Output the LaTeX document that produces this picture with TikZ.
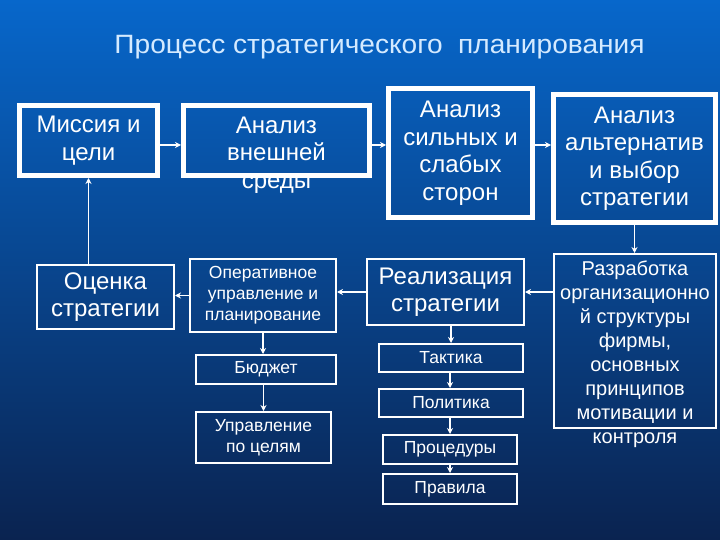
\documentclass[tikz,border=0pt]{standalone}
\usepackage{fontspec}
\setmainfont{Liberation Sans}
\newfontfamily\widefont[FakeStretch=1.06]{Liberation Sans}
\usetikzlibrary{arrows.meta, positioning, calc}
\definecolor{slidetop}{HTML}{0767CB}
\definecolor{slidemid}{HTML}{0852AA}
\definecolor{slidebot}{HTML}{0A2350}
\definecolor{titlelight}{HTML}{D4EAFF}

\begin{document}
\begin{tikzpicture}[x=1pt, y=-1pt,
  every node/.style={inner sep=0pt, align=center, text=white},
  thickbox/.style={draw=white, line width=5pt, outer sep=2.5pt},
  thinbox/.style={draw=white, line width=2pt, outer sep=1pt},
  big/.style={font=\fontsize{24}{27.5}\selectfont},
  mid/.style={font=\fontsize{20}{24}\selectfont},
  small/.style={font=\fontsize{17.5}{21}\selectfont},
  flow/.style={draw=white, line width=1.5pt, -{Stealth[length=6pt,width=6pt]}}]
  % background of the slide
  \shade[top color=slidetop, middle color=slidemid, bottom color=slidebot]
        (0,0) rectangle (720,540);
  \useasboundingbox (0,0) rectangle (720,540);
  \node[font=\widefont\fontsize{26.5}{30}\selectfont, text=titlelight] (title) at (379.5,47)
       {Процесс стратегического\ \ планирования};

  % top row: analysis steps
  \node[thickbox, big, minimum width=138, minimum height=70] (mission) at (88.5,140.5)
       {Миссия и\\цели};
  \node[thickbox, minimum width=186, minimum height=70] (extenv) at (276.5,140.5) {};
  \node[big] (extenvtxt) at (276.5,155) {Анализ\\внешней\\среды};
  \node[thickbox, big, minimum width=144, minimum height=129] (swot) at (460.5,153)
       {Анализ\\сильных и\\слабых\\сторон};
  \node[thickbox, big, minimum width=162, minimum height=128] (altern) at (634.5,158.5)
       {Анализ\\альтернатив\\и выбор\\стратегии};

  % second row
  \node[thinbox, big, minimum width=137, minimum height=64] (evaluate) at (105.5,297)
       {Оценка\\стратегии};
  \node[thinbox, small, minimum width=146, minimum height=73] (operat) at (263,295.5)
       {Оперативное\\управление и\\планирование};
  \node[thinbox, big, minimum width=157, minimum height=66] (implem) at (445.5,292)
       {Реализация\\стратегии};
  \node[thinbox, minimum width=162, minimum height=174] (develop) at (635,341) {};
  \node[mid] (developtxt) at (635,354)
       {Разработка\\организационно\\й структуры\\фирмы,\\основных\\принципов\\мотивации и\\контроля};

  % lower chains
  \node[thinbox, small, minimum width=140, minimum height=29] (budget) at (266,369.5) {Бюджет};
  \node[thinbox, small, minimum width=135, minimum height=51] (mbo) at (263.5,437.5)
       {Управление\\по целям};
  \node[thinbox, small, minimum width=144, minimum height=28] (tactic) at (451,358) {Тактика};
  \node[thinbox, small, minimum width=144, minimum height=28] (policy) at (451,403) {Политика};
  \node[thinbox, small, minimum width=134, minimum height=29] (proced) at (450,449.5) {Процедуры};
  \node[thinbox, small, minimum width=134, minimum height=30] (rules) at (450,489) {Правила};

  % connectors
  \coordinate (toprow) at (0,145);
  \draw[flow] (mission.east |- toprow) -- (extenv.west |- toprow);
  \draw[flow] (extenv.east |- toprow) -- (swot.west |- toprow);
  \draw[flow] (swot.east |- toprow) -- (altern.west |- toprow);
  \draw[flow] (altern.south |- altern.south) -- (altern.south |- develop.north);
  \draw[flow] (develop.west |- implem.east) -- (implem.east);
  \draw[flow] (implem.west) -- (implem.west -| operat.east);
  \draw[flow] (operat.west) -- (operat.west -| evaluate.east);
  \draw[flow] (mission.south |- evaluate.north) -- (mission.south);
  \draw[flow] (operat.south) -- (operat.south |- budget.north);
  \draw[flow] (budget.south -| mbo.north) -- (mbo.north);
  \draw[flow] (tactic.north |- implem.south) -- (tactic.north);
  \draw[flow] (tactic.south -| proced.north) -- (policy.north -| proced.north);
  \draw[flow] (policy.south -| proced.north) -- (proced.north);
  \draw[flow] (proced.south) -- (rules.north);
\end{tikzpicture}
\end{document}
